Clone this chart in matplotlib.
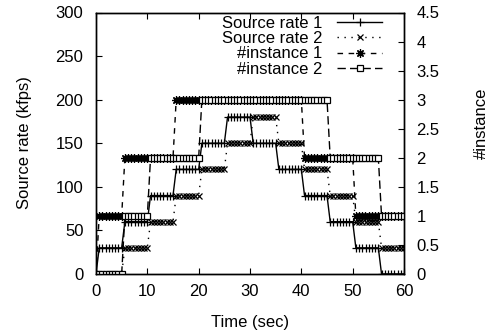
import numpy as np
import matplotlib
matplotlib.use('Agg')
from matplotlib import pyplot as plt

plt.rcParams['font.family'] = ['Liberation Sans', 'DejaVu Sans']
plt.rcParams['font.size'] = 12

# levels held during each 5 s segment: (0,5], (5,10], ..., (55,60]
seg_len = 5
rate1_levels = [30, 60, 90, 120, 150, 180, 150, 120, 90, 60, 30, 0]
rate2_levels = [0, 30, 60, 90, 120, 150, 180, 150, 120, 90, 60, 30]
inst1_levels = [1, 2, 2, 3, 3, 3, 3, 3, 2, 2, 1, 1]
inst2_levels = [0, 1, 2, 2, 3, 3, 3, 3, 3, 2, 2, 1]

labels = ['Source rate 1', 'Source rate 2', '#instance 1', '#instance 2']
x_ticks = [0, 10, 20, 30, 40, 50, 60]
y_ticks = [0, 50, 100, 150, 200, 250, 300]
y2_ticks = [0, 0.5, 1, 1.5, 2, 2.5, 3, 3.5, 4, 4.5]
y2_ticklabels = ['0', '0.5', '1', '1.5', '2', '2.5', '3', '3.5', '4', '4.5']

# measurement instants
t = np.arange(0, 97) * 0.625


def sampled(levels, t):
    idx = np.clip(np.ceil(t / seg_len).astype(int) - 1, 0, None)
    v = np.array(levels, dtype=float)[idx]
    v[t == 0] = 0
    return v


W, H = 490, 335
fig = plt.figure(figsize=(W / 100, H / 100), dpi=100)
ax = fig.add_axes([96 / W, 1 - 274 / H, (404 - 96) / W, (274 - 12.5) / H])
ax2 = ax.twinx()

h1, = ax.plot(t, sampled(rate1_levels, t), color='k', lw=1, ls='-',
              marker='+', ms=5.5, mew=0.9)
h2, = ax.plot(t, sampled(rate2_levels, t), color='k', lw=1, ls=(0, (1, 4)),
              marker='x', ms=4.5, mew=0.9)
h3, = ax2.plot(t, sampled(inst1_levels, t), color='k', lw=1, ls=(0, (4, 4)),
               marker=(8, 2, 0), ms=6, mew=0.9)
h4, = ax2.plot(t, sampled(inst2_levels, t), color='k', lw=1, ls=(0, (6, 3)),
               marker='s', ms=4.5, mew=0.9, mfc='white')

ax.set_xlim(0, 60)
ax.set_ylim(0, 300)
ax2.set_ylim(0, 4.5)
ax.set_xticks(x_ticks)
ax.set_yticks(y_ticks)
ax2.set_yticks(y2_ticks)
ax2.set_yticklabels(y2_ticklabels)

ax.tick_params(axis='x', direction='in', top=True, length=4.5, width=0.8, pad=7)
ax.tick_params(axis='y', direction='in', right=False, length=4.5, width=0.8, pad=9)
ax2.tick_params(direction='in', length=4.5, width=0.8, pad=9)
for a in (ax, ax2):
    for s in a.spines.values():
        s.set_linewidth(1)

fig.text(250 / W, 1 - 323 / H, 'Time (sec)', ha='center', va='center')
fig.text(25 / W, 1 - 143 / H, 'Source rate (kfps)', ha='center', va='center',
         rotation=90)
fig.text(481 / W, 1 - 123 / H, '#instance', ha='center', va='center',
         rotation=90)

ax2.legend([h1, h2, h3, h4], labels, loc='upper right', frameon=False,
           markerfirst=False, handlelength=2.7, handletextpad=0.9,
           labelspacing=0.03, borderaxespad=0, borderpad=0,
           bbox_to_anchor=(382 / W, 1 - 15.5 / H),
           bbox_transform=fig.transFigure)

fig.savefig('out.png', dpi=100)
plt.close(fig)
